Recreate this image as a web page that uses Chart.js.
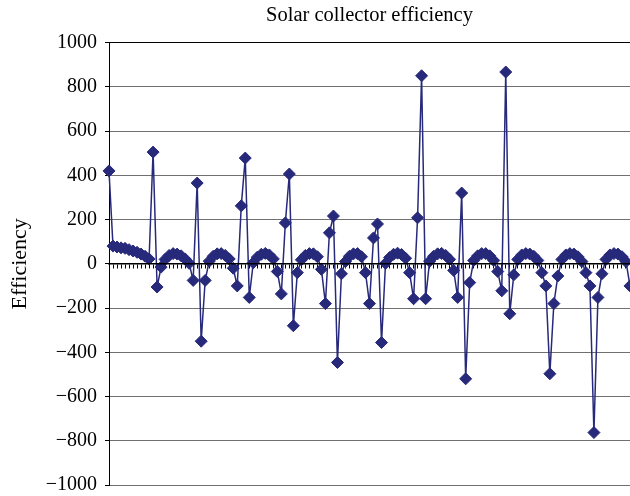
<!DOCTYPE html>
<html><head><meta charset="utf-8">
<script src="https://cdn.jsdelivr.net/npm/chart.js@4/dist/chart.umd.min.js"></script>
<style>
html,body{margin:0;padding:0;background:#fff;overflow:hidden;width:630px;height:496px}
#wrap{position:absolute;left:0;top:0;width:630px;height:496px;overflow:hidden}
</style></head>
<body><div id="wrap"><canvas id="c" width="630" height="505"></canvas></div>
<script>
// Efficiency readings (one per category, ~11 readings per day)
const efficiency = [
  420, 80, 76, 72, 70, 64, 58, 52, 44, 34, 22,
  505, -105, -15, 20, 38, 46, 44, 36, 22, 2, -75,
  365, -350, -75, 12, 34, 45, 46, 38, 22, -20, -100,
  262, 478, -152, 5, 30, 43, 47, 40, 22, -35, -136,
  185, 406, -280, -40, 18, 38, 46, 45, 32, -25, -180,
  140, 216, -446, -45, 10, 34, 45, 46, 32, -40, -180,
  117, 180, -356, 2, 28, 43, 48, 42, 25, -40, -158,
  208, 850, -158, 12, 34, 45, 47, 38, 20, -30, -152,
  320, -520, -85, 15, 36, 46, 46, 36, 15, -35, -122,
  867, -226, -50, 20, 40, 46, 44, 34, 15, -40, -100,
  -497, -180, -55, 20, 40, 46, 44, 32, 10, -40, -100,
  -763, -152, -45, 20, 40, 46, 44, 32, 10, -100
];
const categories = efficiency.map((_, i) => String(i + 1));
const yTickValues = [-1000, -800, -600, -400, -200, 0, 200, 400, 600, 800, 1000];

const NAVY = '#27297a';
const SERIF = "'Liberation Serif', 'DejaVu Serif', serif";

function flatX(s) {
  s.height = 0;
  s.paddingLeft = 0; s.paddingRight = 0; s.paddingTop = 0; s.paddingBottom = 0;
}

new Chart(document.getElementById('c'), {
  type: 'line',
  data: {
    labels: categories,
    datasets: [{
      data: efficiency,
      borderColor: NAVY,
      backgroundColor: NAVY,
      borderWidth: 1.5,
      pointStyle: 'rectRot',
      pointRadius: 6,
      pointBorderWidth: 1,
      pointBackgroundColor: NAVY,
      pointBorderColor: NAVY,
      tension: 0,
      fill: false
    }]
  },
  options: {
    responsive: false,
    animation: false,
    devicePixelRatio: 1,
    layout: { autoPadding: false, padding: { left: 0, right: 0, top: 0, bottom: 0 } },
    plugins: {
      legend: { display: false },
      tooltip: { enabled: false },
      title: {
        display: true,
        text: 'Solar collector efficiency',
        color: '#000',
        fullSize: false,
        font: { family: SERIF, size: 20.5, weight: 'normal' },
        padding: { top: 3, bottom: 15 }
      }
    },
    scales: {
      x: {
        type: 'category',
        position: { y: 0 },
        offset: false,
        afterFit: flatX,
        ticks: { display: false, autoSkip: false, maxRotation: 0, minRotation: 0 },
        grid: { drawOnChartArea: false, drawTicks: true, tickLength: 4, color: '#000', tickColor: '#000', tickWidth: 1, z: -1 },
        border: { display: true, color: '#000', width: 1.5, z: 1 }
      },
      y: {
        min: -1000,
        max: 1000,
        afterBuildTicks: s => { s.ticks = yTickValues.map(v => ({ value: v })); },
        afterFit: s => { s.width = 109; },
        ticks: {
          color: '#000',
          padding: 8,
          font: { family: SERIF, size: 20 },
          callback: v => (v < 0 ? '\u2212' + Math.abs(v) : String(v))
        },
        grid: {
          color: c => (c.tick && (c.tick.value === 0 || c.tick.value === 1000)) ? '#000' : '#707070',
          tickColor: '#000',
          tickLength: 4,
          lineWidth: 1
        },
        border: { display: true, color: '#000', width: 1 },
        title: {
          display: true,
          text: 'Efficiency',
          color: '#000',
          font: { family: SERIF, size: 22 },
          padding: { top: 7, bottom: 0 }
        }
      }
    }
  }
});
</script>
</body></html>
